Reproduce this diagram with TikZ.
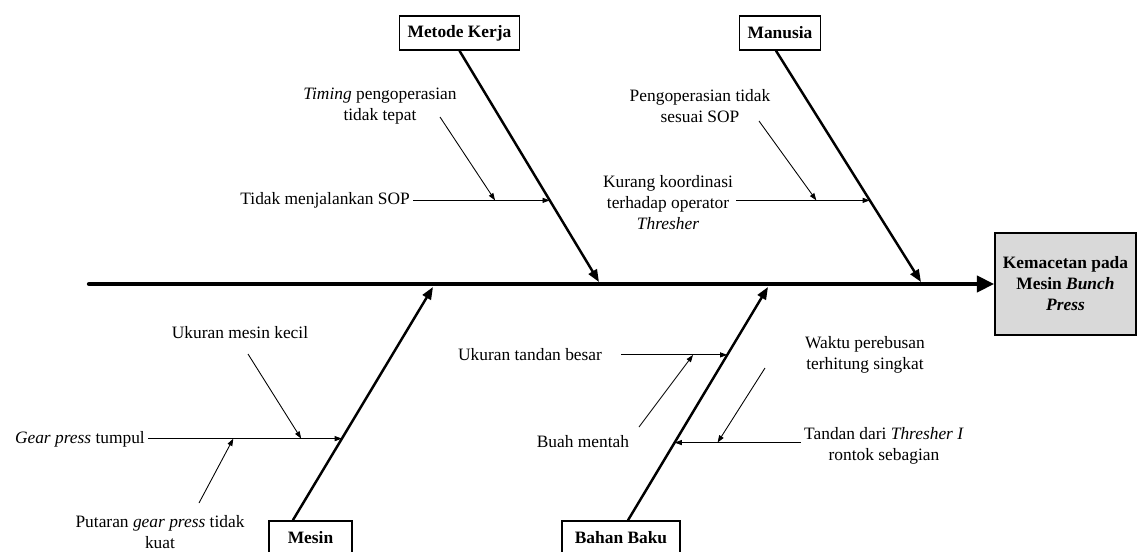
\documentclass[tikz,border=0pt]{standalone}
\usepackage{fontspec}
\setmainfont{Liberation Serif}
\usetikzlibrary{arrows.meta,calc}

\begin{document}
\begin{tikzpicture}[x=0.69pt,y=-0.69pt,
  font=\fontsize{12}{14.5}\selectfont,
  cat/.style={draw=black, line width=1pt, fill=white, font=\fontsize{12}{14.5}\selectfont\bfseries, inner xsep=5.5pt, minimum height=23.5pt},
  txt/.style={align=center, inner sep=2pt},
  spine/.style={line width=3pt, line cap=round, -{Triangle[length=12pt,width=11pt]}},
  bone/.style={line width=1.7pt, -{Triangle[length=8.5pt,width=6.5pt]}},
  sub/.style={line width=0.6pt, -{Triangle[length=5pt,width=3.5pt]}}]

\useasboundingbox (0,0) rectangle (1139,552);

\node [cat] (metode) at (459.5,33) {Metode Kerja};
\node [cat] (manusia) at (780,33) {Manusia};
\node [cat, minimum width=57pt] (mesin) at (310.5,538) {Mesin};
\node [cat, minimum width=81.5pt] (bahan) at (621,538) {Bahan Baku};
\node [cat, fill=black!15, minimum width=96pt, minimum height=70.5pt, align=center] (akibat) at (1065.5,284) {Kemacetan pada\\Mesin \textit{Bunch}\\\textit{Press}};

\coordinate (ekor) at (89,284);
\draw [spine] (ekor) -- (akibat.west);

\coordinate (jmetode) at (599,282);
\coordinate (jmanusia) at (921,282);
\coordinate (jmesin) at (433,287);
\coordinate (jbahan) at (768,287);

\draw [bone] (metode.south) -- coordinate [pos=0.647] (mk) (jmetode);
\draw [bone] ($(manusia.south)+(-4,0)$) -- coordinate [pos=0.647] (mm) (jmanusia);
\draw [bone] ($(mesin.north west)!0.29!(mesin.north east)$) -- coordinate [pos=0.35] (ms) (jmesin);
\draw [bone] ($(bahan.north)+(7,0)$) -- coordinate [pos=0.709] (bb1) coordinate [pos=0.333] (bb2) (jbahan);

\node [txt] (timing) at (380,106) {\textit{Timing} pengoperasian\\tidak tepat};
\node [txt, anchor=east] (sop1) at (413,200) {Tidak menjalankan SOP};
\draw [sub] (sop1.east |- mk) -- coordinate [pos=0.6] (mk-a) (mk);
\coordinate (d-timing) at (440,117);
\draw [sub] (d-timing) -- (mk-a);

\node [txt] (peng) at (700,106) {Pengoperasian tidak\\sesuai SOP};
\node [txt] (kurang) at (668,203) {Kurang koordinasi\\terhadap operator\\\textit{Thresher}};
\draw [sub] (kurang.east |- mm) -- coordinate [pos=0.6] (mm-a) (mm);
\coordinate (d-peng) at (759,121);
\draw [sub] (d-peng) -- (mm-a);

\node [txt] (ukmesin) at (240,333) {Ukuran mesin kecil};
\node [txt, anchor=east] (gear) at (148,439) {\textit{Gear press} tumpul};
\draw [sub] (gear.east |- ms) -- coordinate [pos=0.79] (ms-a) coordinate [pos=0.44] (ms-b) (ms);
\coordinate (d-ukmesin) at (248,354);
\draw [sub] (d-ukmesin) -- (ms-a);
\node [txt] (putaran) at (160,532) {Putaran \textit{gear press} tidak\\kuat};
\coordinate (d-putaran) at (199,503);
\draw [sub] (d-putaran) -- (ms-b);

\node [txt] (uktandan) at (530,355) {Ukuran tandan besar};
\draw [sub, shorten <=11pt] (uktandan.east |- bb1) -- coordinate [pos=0.72] (bb1-a) (bb1);
\node [txt] (buah) at (583,442) {Buah mentah};
\coordinate (d-buah) at (639,427);
\draw [sub] (d-buah) -- (bb1-a);

\node [txt] (waktu) at (865,355) {Waktu perebusan\\terhitung singkat};
\node [txt] (tandan) at (884,446) {Tandan dari \textit{Thresher I}\\rontok sebagian};
\draw [sub] (tandan.west |- bb2) -- coordinate [pos=0.66] (bb2-a) (bb2);
\coordinate (d-waktu) at (765,368);
\draw [sub] (d-waktu) -- (bb2-a);
\end{tikzpicture}
\end{document}
